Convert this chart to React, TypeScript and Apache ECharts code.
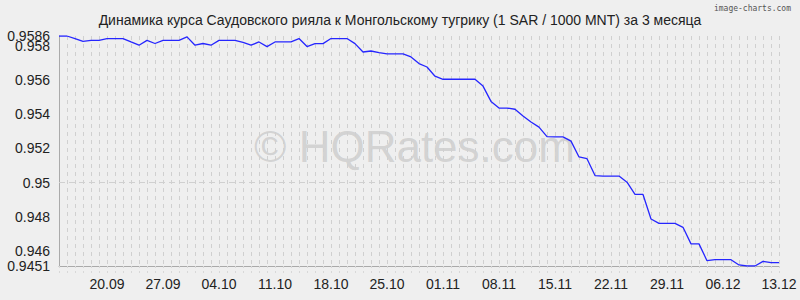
import React, { useEffect, useRef } from "react";
import * as echarts from "echarts";

const startDay = { d: 14, m: 9, y: 2024 };
const rates: number[] = [
  0.9586, 0.9586, 0.95845, 0.95828, 0.95834, 0.95834, 0.95845, 0.95845, 0.95845, 0.95825,
  0.95806, 0.95834, 0.95816, 0.95834, 0.95834, 0.95834, 0.95855, 0.95806, 0.95816, 0.95806,
  0.95834, 0.95834, 0.95834, 0.95822, 0.95806, 0.95825, 0.95798, 0.95825, 0.95825, 0.95825,
  0.95845, 0.95798, 0.95815, 0.95815, 0.95845, 0.95845, 0.95845, 0.95815, 0.95766, 0.95772,
  0.95763, 0.95755, 0.95755, 0.95755, 0.95737, 0.95698, 0.95678, 0.95624, 0.95606, 0.95606,
  0.95606, 0.95606, 0.95606, 0.95566, 0.95476, 0.95437, 0.95437, 0.9543, 0.9539, 0.95355,
  0.95325, 0.95269, 0.95268, 0.95268, 0.95243, 0.9515, 0.9514, 0.95041, 0.95038, 0.95038,
  0.95038, 0.95002, 0.9493, 0.9493, 0.94786, 0.9476, 0.9476, 0.9476, 0.94737, 0.9464,
  0.9464, 0.94541, 0.94547, 0.94547, 0.94547, 0.94516, 0.9451, 0.9451, 0.94537, 0.9453,
  0.9453,
];
const yLabelValues = [0.9451, 0.946, 0.948, 0.95, 0.952, 0.954, 0.956, 0.958];
const yMaxLabelValues = [0.9586];
const yGridValues = [0.946, 0.947, 0.948, 0.949, 0.95, 0.951, 0.952, 0.953, 0.954, 0.955, 0.956, 0.957, 0.958];
const xLabelDates = ["20.09", "27.09", "04.10", "11.10", "18.10", "25.10", "01.11", "08.11", "15.11", "22.11", "29.11", "06.12", "13.12"];

const pad = (n: number) => (n < 10 ? "0" + n : "" + n);
const categories: string[] = rates.map((_, i) => {
  const dt = new Date(startDay.y, startDay.m - 1, startDay.d + i);
  return pad(dt.getDate()) + "." + pad(dt.getMonth() + 1);
});

const TITLE = "Динамика курса Саудовского рияла к Монгольскому тугрику (1 SAR / 1000 MNT) за 3 месяца";

export default function App() {
  const ref = useRef<HTMLDivElement>(null);
  useEffect(() => {
    if (!ref.current) return;
    const chart = echarts.init(ref.current, undefined, { renderer: "svg" });
    const font = "Liberation Sans, Arial, sans-serif";
    const yLabelStyle = {
      showMaxLabel: true,
      showMinLabel: true,
      hideOverlap: false,
      color: "#222",
      fontSize: 14,
      lineHeight: 10,
      margin: 9,
      fontFamily: font,
      formatter: (v: number) => String(v),
    };
    chart.setOption({
      animation: false,
      backgroundColor: "#efefef",
      textStyle: { fontFamily: font },
      title: {
        text: TITLE,
        left: "center",
        top: 8,
        textStyle: { fontSize: 14, fontWeight: "normal", color: "#222", fontFamily: font },
      },
      graphic: [
        {
          type: "text",
          right: 9,
          top: 4,
          style: { text: "image-charts.com", fontSize: 8, fill: "#555", fontFamily: "DejaVu Sans Mono, monospace" },
        },
        {
          type: "text",
          left: 254,
          top: 124,
          z: -1,
          style: { text: "© HQRates.com", fontSize: 44, fill: "rgba(150,150,150,0.32)", fontFamily: font },
        },
      ],
      grid: { left: 59, right: 21, top: 36, bottom: 34 },
      xAxis: {
        type: "category",
        data: categories,
        boundaryGap: false,
        axisLine: { show: true, lineStyle: { color: "#aaa", width: 1 } },
        axisTick: {
          show: true,
          interval: 0,
          length: 9,
          lineStyle: { color: "#d8d8d8", type: [2, 3] },
        },
        axisLabel: {
          interval: (_i: number, v: string) => xLabelDates.includes(v),
          color: "#222",
          fontSize: 14,
          margin: 11,
          fontFamily: font,
        },
        splitLine: {
          show: true,
          interval: 0,
          lineStyle: { color: "#d0d0d0", type: [4, 4], width: 1 },
        },
      },
      yAxis: [
        {
          type: "value",
          min: 0.9451,
          max: 0.9586,
          position: "left",
          axisLine: { show: true, lineStyle: { color: "#aaa", width: 1 } },
          axisTick: { show: false },
          axisLabel: {
            ...yLabelStyle,
            customValues: yLabelValues,
            padding: [3, 0, 0, 0],
          },
          splitLine: { show: false },
        },
        {
          type: "value",
          min: 0.9451,
          max: 0.9586,
          position: "left",
          offset: 0,
          axisLine: { show: false },
          axisTick: { show: false },
          axisLabel: {
            ...yLabelStyle,
            customValues: yMaxLabelValues,
            padding: [0, 0, 4, 0],
          },
          splitLine: { show: false },
        },
      ],
      series: [
        {
          type: "line",
          data: rates,
          yAxisIndex: 0,
          symbol: "none",
          lineStyle: { color: "#2626ff", width: 1.3 },
          z: 5,
          markLine: {
            silent: true,
            symbol: "none",
            label: { show: false },
            animation: false,
            lineStyle: { color: "#d0d0d0", type: [6, 4], width: 1 },
            data: yGridValues.map((v) => ({ yAxis: v })),
            z: 1,
          },
        },
      ],
    });
    return () => chart.dispose();
  }, []);
  return (
    <div
      ref={ref}
      style={{ position: "fixed", left: 0, top: 0, width: 800, height: 300 }}
    />
  );
}
